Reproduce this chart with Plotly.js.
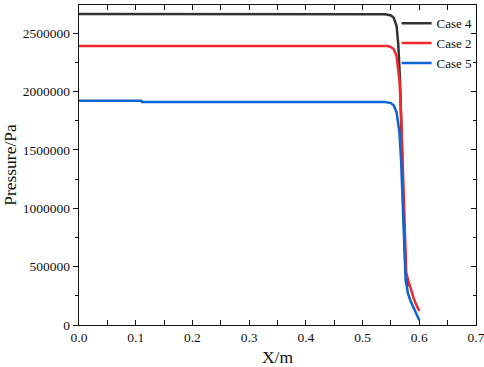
<!DOCTYPE html>
<html>
<head>
<meta charset="utf-8">
<script src="https://cdn.plot.ly/plotly-3.0.1.min.js"></script>
<style>html,body{margin:0;padding:0;background:#fff;}#chart{width:484px;height:367px;}</style>
</head>
<body>
<div id="chart"></div>
<script>
const case4X = [0, 0.1, 0.2, 0.3, 0.4, 0.5, 0.54, 0.55, 0.555, 0.56, 0.563, 0.566, 0.568, 0.570, 0.572, 0.574, 0.576, 0.578, 0.580];
const case4Y = [2663000, 2663000, 2663000, 2663000, 2663000, 2662000, 2660000, 2650000, 2630000, 2560000, 2400000, 2100000, 1800000, 1400000, 1000000, 650000, 450000, 400000, 330000];

const case2X = [0, 0.1, 0.2, 0.3, 0.4, 0.5, 0.545, 0.55, 0.555, 0.56, 0.565, 0.568, 0.571, 0.573, 0.575, 0.577, 0.580, 0.585, 0.590, 0.595, 0.600];
const case2Y = [2390000, 2390000, 2390000, 2390000, 2390000, 2390000, 2389000, 2380000, 2360000, 2300000, 2100000, 1800000, 1300000, 900000, 600000, 450000, 390000, 300000, 230000, 170000, 120000];

const case5X = [0, 0.11, 0.111, 0.2, 0.3, 0.4, 0.5, 0.54, 0.55, 0.555, 0.56, 0.565, 0.568, 0.571, 0.574, 0.576, 0.578, 0.580, 0.585, 0.590, 0.595, 0.598, 0.600];
const case5Y = [1920000, 1920000, 1910000, 1910000, 1910000, 1910000, 1910000, 1909000, 1900000, 1880000, 1820000, 1650000, 1400000, 1000000, 600000, 380000, 330000, 270000, 200000, 150000, 100000, 70000, 40000];

const seriesNames = ['Case 4', 'Case 2', 'Case 5'];
const seriesColors = ['#333333', '#f0282d', '#0a64d2'];

const xTickVals = [0, 0.1, 0.2, 0.3, 0.4, 0.5, 0.6, 0.7];
const xTickText = ['0.0', '0.1', '0.2', '0.3', '0.4', '0.5', '0.6', '0.7'];
const yTickVals = [0, 500000, 1000000, 1500000, 2000000, 2500000];
const yTickText = ['0', '500000', '1000000', '1500000', '2000000', '2500000'];

const xs = [case4X, case2X, case5X];
const ys = [case4Y, case2Y, case5Y];
const font = '"Liberation Serif", serif';

const traces = seriesNames.map((n, i) => ({
  x: xs[i], y: ys[i], name: n, type: 'scatter', mode: 'lines',
  line: {color: seriesColors[i], width: 2.5}
}));
traces.push({x: [0], y: [0], yaxis: 'y2', xaxis: 'x', mode: 'none', showlegend: false, hoverinfo: 'skip'});

const layout = {
  width: 484, height: 367,
  margin: {l: 79, r: 8, t: 5, b: 42},
  paper_bgcolor: '#fff', plot_bgcolor: '#fff',
  font: {family: font, color: '#111', size: 13},
  showlegend: true,
  legend: {x: 0.8, xanchor: 'left', y: 0.99, yanchor: 'top', bgcolor: 'rgba(0,0,0,0)',
           font: {family: font, size: 13, color: '#111'}, itemwidth: 30},
  xaxis: {
    range: [0, 0.7], tickvals: xTickVals, ticktext: xTickText,
    ticks: 'inside', ticklen: 5, tickwidth: 1, tickcolor: '#111',
    ticklabeloverflow: 'allow',
    minor: {dtick: 0.05, ticks: 'inside', ticklen: 3, tickcolor: '#111', showgrid: false},
    showline: true, linecolor: '#111', linewidth: 1.2, mirror: 'allticks',
    showgrid: false, zeroline: false,
    title: {text: 'X/m', font: {family: font, size: 17.5, color: '#111'}, standoff: 8},
    tickfont: {family: font, size: 13.5, color: '#111'}
  },
  yaxis: {
    range: [0, 2740000], tickvals: yTickVals, ticktext: yTickText,
    ticks: 'outside', ticklen: 5, tickwidth: 1, tickcolor: '#111',
    minor: {dtick: 250000, ticks: 'outside', ticklen: 3, tickcolor: '#111', showgrid: false},
    showline: true, linecolor: '#111', linewidth: 1.2, mirror: false,
    showgrid: false, zeroline: false,
    title: {text: 'Pressure/Pa', font: {family: font, size: 17.5, color: '#111'}, standoff: 6},
    tickfont: {family: font, size: 13.5, color: '#111'}
  },
  yaxis2: {
    overlaying: 'y', side: 'right', matches: 'y', range: [0, 2740000],
    tickvals: yTickVals, showticklabels: false,
    ticks: 'inside', ticklen: 5, tickwidth: 1, tickcolor: '#111',
    minor: {dtick: 250000, ticks: 'inside', ticklen: 3, tickcolor: '#111', showgrid: false},
    showline: true, linecolor: '#111', linewidth: 1.2,
    showgrid: false, zeroline: false
  }
};

Plotly.newPlot('chart', traces, layout, {staticPlot: true, displayModeBar: false});
</script>
</body>
</html>
